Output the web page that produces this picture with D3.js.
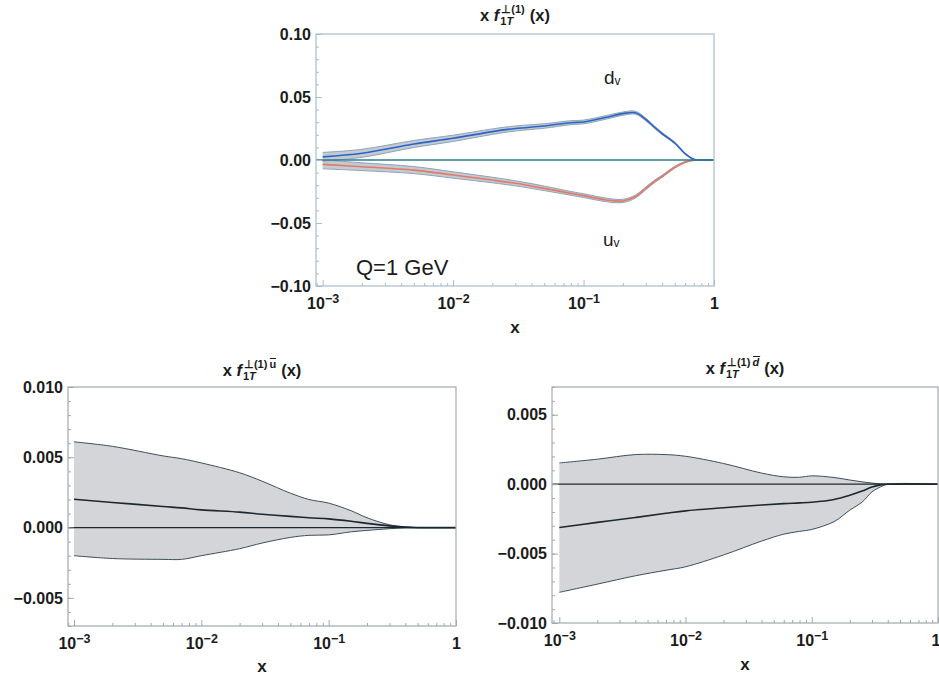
<!DOCTYPE html>
<html>
<head>
<meta charset="utf-8">
<script src="https://cdn.jsdelivr.net/npm/d3@7"></script>
<style>
  body { margin: 0; background: #fff; }
  text { font-family: "Liberation Sans", Arial, sans-serif; fill: #1b1b1b; }
</style>
</head>
<body>
<svg id="chart" width="939" height="679"></svg>
<script>
// ---- data ----
// top panel: valence quarks
const xTop = [0.001, 0.002, 0.005, 0.01, 0.02, 0.03, 0.05, 0.08, 0.1, 0.15, 0.2, 0.25, 0.3, 0.35, 0.4, 0.5, 0.6, 0.7, 0.8, 1];
const dvMid = [0.0025, 0.0053, 0.0127, 0.0172, 0.0225, 0.025, 0.027, 0.0296, 0.0302, 0.0339, 0.0368, 0.0375, 0.0322, 0.026, 0.021, 0.0135, 0.005, 0.0005, 0, 0];
const dvHi  = [0.0060, 0.0085, 0.0155, 0.0197, 0.0247, 0.0270, 0.0288, 0.0312, 0.0317, 0.0353, 0.0381, 0.0387, 0.0333, 0.0270, 0.0219, 0.0142, 0.0055, 0.0008, 0, 0];
const dvLo  = [-0.0010, 0.0021, 0.0099, 0.0147, 0.0203, 0.0230, 0.0252, 0.0280, 0.0287, 0.0325, 0.0355, 0.0363, 0.0311, 0.0250, 0.0201, 0.0128, 0.0045, 0.0002, 0, 0];
const uvMid = [-0.0035, -0.0053, -0.008, -0.0119, -0.0159, -0.0185, -0.0225, -0.0265, -0.0283, -0.0317, -0.0325, -0.029, -0.0225, -0.017, -0.013, -0.0058, -0.0017, -0.0002, 0, 0];
const uvHi  = [0.0000, -0.0022, -0.0052, -0.0094, -0.0137, -0.0165, -0.0207, -0.0250, -0.0268, -0.0303, -0.0312, -0.0278, -0.0214, -0.0160, -0.0121, -0.0051, -0.0012, 0, 0, 0];
const uvLo  = [-0.0070, -0.0084, -0.0108, -0.0144, -0.0181, -0.0205, -0.0243, -0.0280, -0.0298, -0.0331, -0.0338, -0.0302, -0.0236, -0.0180, -0.0139, -0.0065, -0.0022, -0.0004, 0, 0];

// bottom left: u-bar
const xUbar = [0.001, 0.002, 0.005, 0.007, 0.01, 0.02, 0.03, 0.05, 0.07, 0.1, 0.15, 0.2, 0.3, 0.4, 0.5, 1];
const ubarMid = [0.00202, 0.00179, 0.0015, 0.0014, 0.00126, 0.0011, 0.00095, 0.0008, 0.0007, 0.00062, 0.00045, 0.0003, 0.00012, 0.00003, 0, 0];
const ubarHi  = [0.0061, 0.00578, 0.0051, 0.0049, 0.0046, 0.0039, 0.0033, 0.00245, 0.002, 0.00174, 0.0012, 0.0007, 0.0002, 0.00005, 0, 0];
const ubarLo  = [-0.0020, -0.0022, -0.00226, -0.00226, -0.0020, -0.0015, -0.0011, -0.0007, -0.00055, -0.00052, -0.0003, -0.0002, -0.00008, -0.00002, 0, 0];

// bottom right: d-bar
const xDbar = [0.001, 0.002, 0.004, 0.007, 0.01, 0.02, 0.04, 0.06, 0.08, 0.1, 0.15, 0.2, 0.25, 0.3, 0.35, 0.4, 1];
const dbarMid = [-0.00312, -0.00275, -0.0024, -0.0021, -0.00192, -0.0017, -0.0015, -0.0014, -0.00135, -0.0013, -0.0011, -0.0008, -0.0005, -0.0002, -0.00005, 0, 0];
const dbarHi  = [0.00153, 0.0018, 0.00213, 0.00213, 0.00201, 0.00149, 0.0008, 0.00053, 0.0005, 0.0006, 0.00048, 0.0003, 0.00017, 0.00008, 0.00002, 0, 0];
const dbarLo  = [-0.00779, -0.0072, -0.0066, -0.0062, -0.00595, -0.0051, -0.0041, -0.0036, -0.0034, -0.00326, -0.0027, -0.00187, -0.0013, -0.00055, -0.0002, 0, 0];

const xMajor = [1e-3, 1e-2, 1e-1, 1];
const xMajorLabels = ["−3", "−2", "−1", ""];
const yTopTicks = [-0.1, -0.05, 0, 0.05, 0.1];
const yUbarTicks = [-0.005, 0, 0.005, 0.01];
const yDbarTicks = [-0.01, -0.005, 0, 0.005];

const svg = d3.select("#chart");

// log minor ticks 2..9 per decade
const xMinor = [];
[1e-4, 1e-3, 1e-2, 1e-1].forEach(p => { for (let k = 2; k <= 9; k++) xMinor.push(p * k); });

function panel(o) {
  const g = svg.append("g");
  const x = d3.scaleLog().domain(o.xdom).range([o.left, o.right]);
  const y = d3.scaleLinear().domain(o.ydom).range([o.bottom, o.top]);
  o.x = x; o.y = y; o.g = g;

  const clipId = "clip" + o.id;
  svg.append("clipPath").attr("id", clipId).append("rect")
    .attr("x", o.left).attr("y", o.top).attr("width", o.right - o.left).attr("height", o.bottom - o.top);
  o.plot = g.append("g").attr("clip-path", `url(#${clipId})`);

  // minor ticks
  const yMinor = d3.range(o.ydom[0], o.ydom[1] + o.minorStep / 2, o.minorStep);
  g.append("g").attr("transform", `translate(${o.left},0)`)
    .call(d3.axisLeft(y).tickValues(yMinor).tickSize(-3).tickFormat(""))
    .call(s => s.select(".domain").remove())
    .selectAll("line").attr("stroke", o.frame);
  g.append("g").attr("transform", `translate(0,${o.bottom})`)
    .call(d3.axisBottom(x).tickValues(xMinor.filter(v => v > o.xdom[0] && v < 1)).tickSize(-3).tickFormat(""))
    .call(s => s.select(".domain").remove())
    .selectAll("line").attr("stroke", o.frame);

  // major y ticks + labels
  const ya = g.append("g").attr("transform", `translate(${o.left},0)`)
    .call(d3.axisLeft(y).tickValues(o.yticks).tickSize(-6).tickPadding(5).tickFormat(d3.format(o.yfmt)));
  ya.select(".domain").remove();
  ya.selectAll("line").attr("stroke", o.frame);
  ya.selectAll("text").attr("font-size", 16).attr("font-weight", "bold")
    .attr("font-family", "Liberation Sans, Arial, sans-serif").attr("fill", "#1b1b1b");

  // major x ticks + labels (10^n)
  const xa = g.append("g").attr("transform", `translate(0,${o.bottom})`)
    .call(d3.axisBottom(x).tickValues(xMajor).tickSize(-6).tickPadding(9).tickFormat(""));
  xa.select(".domain").remove();
  xa.selectAll("line").attr("stroke", o.frame);
  xa.selectAll(".tick text").each(function(d, i) {
    const t = d3.select(this).attr("font-size", 16).attr("font-weight", "bold")
      .attr("font-family", "Liberation Sans, Arial, sans-serif").attr("fill", "#1b1b1b")
      .attr("dy", "0.85em");
    if (d === 1) {
      t.text("1");
      if (o.right > 930) t.attr("text-anchor", "end").attr("dx", 2);
      return;
    }
    t.append("tspan").text("10");
    t.append("tspan").attr("dy", -6).attr("font-size", 12.5).text(xMajorLabels[i]);
  });

  // frame
  g.append("rect").attr("x", o.left).attr("y", o.top)
    .attr("width", o.right - o.left).attr("height", o.bottom - o.top)
    .attr("fill", "none").attr("stroke", o.frame).attr("stroke-width", 1.2);

  // x axis label
  g.append("text").attr("x", (o.left + o.right) / 2).attr("y", o.xlabY)
    .attr("text-anchor", "middle").attr("font-size", 17).attr("font-weight", "bold").text("x");

  title(o.titleY, (o.left + o.right) / 2, o.bar);
  return o;
}

function title(baseline, cx, bar) {
  const tg = svg.append("g");
  const main = tg.append("text").attr("x", 0).attr("y", baseline)
    .attr("font-size", 16.5).attr("font-weight", "bold");
  main.append("tspan").text("x ");
  main.append("tspan").attr("font-style", "italic").text("f");
  const w0 = main.node().getComputedTextLength() + 1;
  const sub = tg.append("text").attr("x", w0).attr("y", baseline + 4)
    .attr("font-size", 11).attr("font-weight", "bold");
  sub.append("tspan").text("1");
  sub.append("tspan").attr("font-style", "italic").text("T");
  const sup = tg.append("text").attr("x", w0 + 1).attr("y", baseline - 8)
    .attr("font-size", 11).attr("font-weight", "bold").text("⊥(1)");
  let w1 = Math.max(sub.node().getComputedTextLength(), sup.node().getComputedTextLength() + 1);
  if (bar) {
    const bx = w0 + w1 + 2;
    const bt = tg.append("text").attr("x", bx).attr("y", baseline - 8)
      .attr("font-size", 11).attr("font-weight", "bold")
      .attr("font-style", bar === "d" ? "italic" : "normal").text(bar);
    const bw = bt.node().getComputedTextLength();
    tg.append("line").attr("x1", bx + 0.5).attr("x2", bx + bw + (bar === "d" ? 1 : 0))
      .attr("y1", baseline - 17.5).attr("y2", baseline - 17.5)
      .attr("stroke", "#1b1b1b").attr("stroke-width", 1);
    w1 += bw + 2;
  }
  tg.append("text").attr("x", w0 + w1 + 5).attr("y", baseline)
    .attr("font-size", 16.5).attr("font-weight", "bold").text("(x)");
  const bb = tg.node().getBBox();
  tg.attr("transform", `translate(${cx - bb.x - bb.width / 2},0)`);
}

function band(o, xs, lo, hi, mid, st) {
  const pts = xs.map((v, i) => ({ x: v, lo: lo[i], hi: hi[i], mid: mid[i] }));
  const curve = d3.curveCatmullRom.alpha(0.5);
  o.plot.append("path").datum(pts)
    .attr("d", d3.area().curve(curve).x(d => o.x(d.x)).y0(d => o.y(d.lo)).y1(d => o.y(d.hi)))
    .attr("fill", st.fill).attr("fill-opacity", st.fillOpacity || 1);
  ["lo", "hi"].forEach(k => {
    o.plot.append("path").datum(pts)
      .attr("d", d3.line().curve(curve).x(d => o.x(d.x)).y(d => o.y(d[k])))
      .attr("fill", "none").attr("stroke", st.edge).attr("stroke-width", st.edgeW);
  });
  o.plot.append("path").datum(pts)
    .attr("d", d3.line().curve(curve).x(d => o.x(d.x)).y(d => o.y(d.mid)))
    .attr("fill", "none").attr("stroke", st.mid).attr("stroke-width", st.midW);
}

function zeroLine(o, color, w) {
  o.plot.append("line").attr("x1", o.left).attr("x2", o.right)
    .attr("y1", o.y(0)).attr("y2", o.y(0)).attr("stroke", color).attr("stroke-width", w);
}

// ---- top panel ----
const topP = panel({
  id: "t", left: 316, right: 714, top: 34, bottom: 286,
  xdom: [Math.pow(10, -3.051), 1], ydom: [-0.1, 0.1],
  yticks: yTopTicks, yfmt: ".2f", minorStep: 0.01,
  frame: "#a9bccb", xlabY: 333, titleY: 21, bar: null
});
const topStyle = { fill: "#c4cad1", edge: "#8ea4b8", edgeW: 1, midW: 1.6 };
band(topP, xTop, uvLo, uvHi, uvMid, Object.assign({}, topStyle, { mid: "#e27a66" }));
band(topP, xTop, dvLo, dvHi, dvMid, Object.assign({}, topStyle, { mid: "#2a64c8" }));
zeroLine(topP, "#2f7d8c", 1.3);

const dv = svg.append("text").attr("x", 604).attr("y", 84).attr("font-size", 19);
dv.append("tspan").text("d");
dv.append("tspan").attr("font-size", 12).attr("dy", 1).text("v");
const uv = svg.append("text").attr("x", 603).attr("y", 246).attr("font-size", 19);
uv.append("tspan").text("u");
uv.append("tspan").attr("font-size", 12).attr("dy", 1).text("v");
svg.append("text").attr("x", 356).attr("y", 275).attr("font-size", 22).text("Q=1 GeV");

// ---- bottom left: u-bar ----
const bl = panel({
  id: "l", left: 68, right: 456, top: 387, bottom: 626,
  xdom: [Math.pow(10, -3.047), 1], ydom: [-0.007, 0.010],
  yticks: yUbarTicks, yfmt: ".3f", minorStep: 0.001,
  frame: "#a3a8ae", xlabY: 672, titleY: 376, bar: "u"
});
const botStyle = { fill: "#d3d5d9", edge: "#3e4f58", edgeW: 1, mid: "#1d282e", midW: 1.6 };
band(bl, xUbar, ubarLo, ubarHi, ubarMid, botStyle);
zeroLine(bl, "#1d282e", 1.3);

// ---- bottom right: d-bar ----
const br = panel({
  id: "r", left: 552, right: 938, top: 387, bottom: 623,
  xdom: [Math.pow(10, -3.058), 1], ydom: [-0.010, 0.007],
  yticks: yDbarTicks, yfmt: ".3f", minorStep: 0.001,
  frame: "#a3a8ae", xlabY: 670, titleY: 374, bar: "d"
});
band(br, xDbar, dbarLo, dbarHi, dbarMid, botStyle);
zeroLine(br, "#1d282e", 1.3);
</script>
</body>
</html>
